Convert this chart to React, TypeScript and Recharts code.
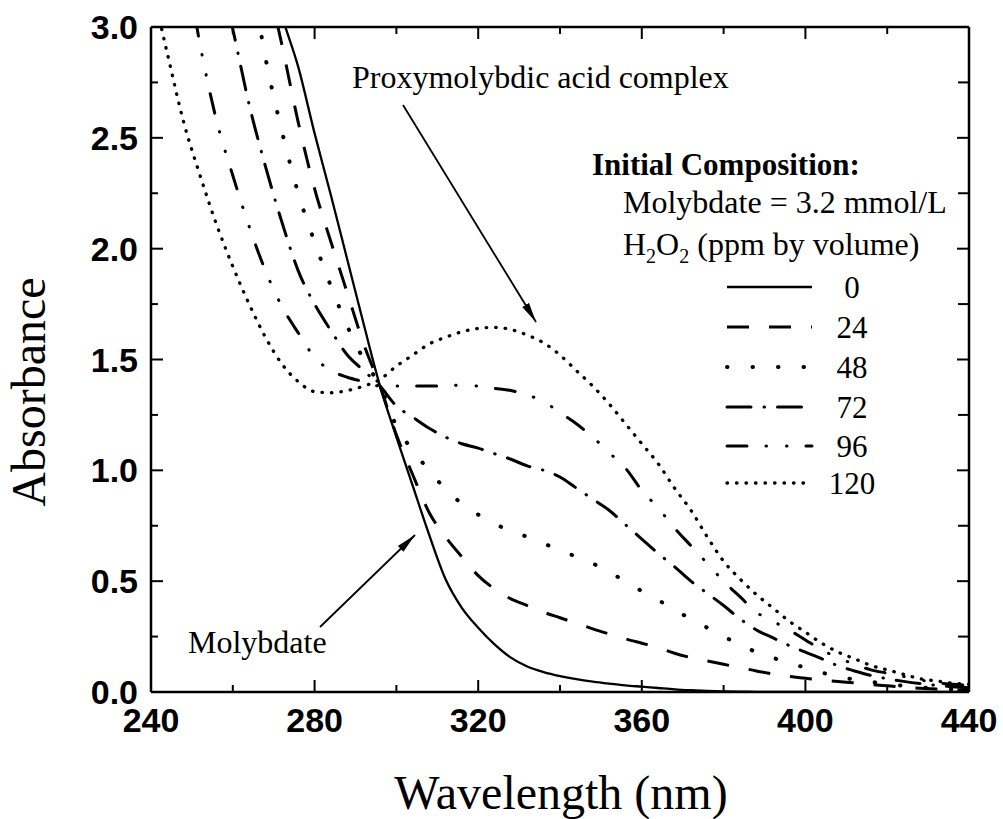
import React from 'react';
import { LineChart, Line, XAxis, YAxis } from 'recharts';

// ---- data (absorbance vs wavelength) ----
const wavelengths = [240, 244, 248, 252, 256, 260, 264, 268, 272, 276, 280, 284, 288, 292, 296, 300, 304, 308, 312, 316, 320, 324, 328, 332, 336, 340, 344, 348, 352, 356, 360, 364, 368, 372, 376, 380, 384, 388, 392, 396, 400, 404, 408, 412, 416, 420, 424, 428, 432, 436, 440];

const abs0 = [6.0, 5.6, 5.2, 4.8, 4.4, 4.0, 3.65, 3.32, 3.05, 2.82, 2.52, 2.24, 1.95, 1.66, 1.38, 1.15, 0.93, 0.71, 0.51, 0.38, 0.29, 0.215, 0.155, 0.115, 0.09, 0.072, 0.058, 0.047, 0.038, 0.03, 0.024, 0.018, 0.012, 0.008, 0.005, 0.003, 0.002, 0.001, 0, 0, 0, 0, 0, 0, 0, 0, 0, 0, 0, 0, 0];
const abs24 = [5.8, 5.4, 5.0, 4.6, 4.3, 3.95, 3.6, 3.25, 2.92, 2.57, 2.27, 2.03, 1.80, 1.57, 1.38, 1.16, 0.98, 0.81, 0.70, 0.61, 0.525, 0.465, 0.42, 0.39, 0.36, 0.335, 0.31, 0.285, 0.262, 0.24, 0.22, 0.2, 0.175, 0.155, 0.14, 0.125, 0.11, 0.095, 0.082, 0.07, 0.062, 0.054, 0.047, 0.041, 0.034, 0.028, 0.022, 0.017, 0.013, 0.01, 0.008];
const abs48 = [5.2, 4.8, 4.45, 4.15, 3.9, 3.6, 3.28, 2.86, 2.53, 2.25, 2.03, 1.83, 1.65, 1.5, 1.38, 1.2, 1.09, 1.0, 0.915, 0.85, 0.8, 0.76, 0.725, 0.7, 0.67, 0.64, 0.61, 0.58, 0.54, 0.5, 0.455, 0.415, 0.37, 0.33, 0.29, 0.25, 0.215, 0.18, 0.155, 0.13, 0.11, 0.088, 0.068, 0.057, 0.046, 0.036, 0.028, 0.021, 0.016, 0.012, 0.01];
const abs72 = [4.6, 4.25, 3.9, 3.6, 3.3, 2.99, 2.65, 2.37, 2.12, 1.9, 1.75, 1.63, 1.52, 1.45, 1.38, 1.29, 1.24, 1.19, 1.15, 1.12, 1.1, 1.075, 1.05, 1.02, 1.0, 0.97, 0.92, 0.87, 0.82, 0.755, 0.69, 0.625, 0.565, 0.5, 0.445, 0.39, 0.33, 0.28, 0.245, 0.21, 0.18, 0.15, 0.118, 0.095, 0.075, 0.06, 0.048, 0.038, 0.03, 0.024, 0.02];
const abs96 = [4.1, 3.75, 3.35, 2.92, 2.58, 2.33, 2.1, 1.9, 1.74, 1.62, 1.51, 1.45, 1.42, 1.4, 1.38, 1.38, 1.38, 1.38, 1.38, 1.385, 1.38, 1.37, 1.36, 1.34, 1.31, 1.26, 1.21, 1.15, 1.08, 1.01, 0.91, 0.83, 0.74, 0.66, 0.58, 0.5, 0.43, 0.36, 0.32, 0.28, 0.235, 0.19, 0.155, 0.125, 0.1, 0.085, 0.07, 0.055, 0.042, 0.035, 0.03];
const abs120 = [3.2, 2.88, 2.57, 2.33, 2.11, 1.92, 1.75, 1.6, 1.48, 1.4, 1.355, 1.35, 1.36, 1.38, 1.41, 1.47, 1.52, 1.57, 1.6, 1.625, 1.64, 1.645, 1.635, 1.61, 1.575, 1.52, 1.45, 1.38, 1.3, 1.21, 1.12, 1.03, 0.92, 0.82, 0.7, 0.59, 0.51, 0.44, 0.38, 0.32, 0.27, 0.22, 0.18, 0.15, 0.12, 0.1, 0.08, 0.06, 0.05, 0.04, 0.035];

const seriesNames = ['0', '24', '48', '72', '96', '120'];
const seriesValues = [abs0, abs24, abs48, abs72, abs96, abs120];

const xMajorTicks = [240, 280, 320, 360, 400, 440];
const xMinorTicks = [260, 300, 340, 380, 420];
const yMajorTicks = [0, 0.5, 1.0, 1.5, 2.0, 2.5, 3.0];
const yMinorTicks = [0.25, 0.75, 1.25, 1.75, 2.25, 2.75];
const xTickLabels = ['240', '280', '320', '360', '400', '440'];
const yTickLabels = ['0.0', '0.5', '1.0', '1.5', '2.0', '2.5', '3.0'];

const xTitle = 'Wavelength (nm)';
const yTitle = 'Absorbance';

// ---- styles ----
const W = 1003;
const H = 819;
const SERIF = '"Liberation Serif", "Times New Roman", serif';
const SANS = '"Liberation Sans", Arial, sans-serif';
const X_MARGIN = 16;
const Y_MARGIN = 14;
const MAJOR = 12;
const MINOR = 7;
const AXIS_W = 2.5;

const lineStyles = [
  { dash: undefined, width: 2.3, cap: 'butt' },
  { dash: '22 20', width: 3, cap: 'butt' },
  { dash: '0.5 25', width: 4, cap: 'round' },
  { dash: '24 13 0.5 13', width: 3, cap: 'round' },
  { dash: '20 19 0.5 20 0.5 19', width: 3, cap: 'round' },
  { dash: '0.5 9', width: 3.3, cap: 'round' },
];

const data = wavelengths.map((w, i) => {
  const row: Record<string, number> = { w };
  seriesNames.forEach((n, k) => {
    row['s' + n] = seriesValues[k][i];
  });
  return row;
});

const allX = [...xMajorTicks, ...xMinorTicks].sort((a, b) => a - b);
const allY = [...yMajorTicks, ...yMinorTicks].sort((a, b) => a - b);

const tickText = {
  fontFamily: SANS,
  fontWeight: 700,
  fontSize: 34,
  fill: '#000',
};

const BottomTick = (props: any) => {
  const { x, y, payload } = props;
  const v = payload.value;
  const idx = xMajorTicks.indexOf(v);
  const axisY = y - X_MARGIN;
  return (
    <g>
      <line x1={x} x2={x} y1={axisY} y2={axisY - (idx >= 0 ? MAJOR : MINOR)} stroke="#000" strokeWidth={2} />
      {idx >= 0 && (
        <text x={x} y={axisY + 40} textAnchor="middle" {...tickText}>
          {xTickLabels[idx]}
        </text>
      )}
    </g>
  );
};

const TopTick = (props: any) => {
  const { x, y, payload } = props;
  const v = payload.value;
  const major = xMajorTicks.indexOf(v) >= 0;
  return <line x1={x} x2={x} y1={y} y2={y + (major ? MAJOR : MINOR)} stroke="#000" strokeWidth={2} />;
};

const LeftTick = (props: any) => {
  const { x, y, payload } = props;
  const v = payload.value;
  const idx = yMajorTicks.indexOf(v);
  const axisX = x + Y_MARGIN;
  return (
    <g>
      <line x1={axisX} x2={axisX + (idx >= 0 ? MAJOR : MINOR)} y1={y} y2={y} stroke="#000" strokeWidth={2} />
      {idx >= 0 && (
        <text x={axisX - 13} y={y + 12} textAnchor="end" {...tickText}>
          {yTickLabels[idx]}
        </text>
      )}
    </g>
  );
};

const RightTick = (props: any) => {
  const { x, y, payload } = props;
  const v = payload.value;
  const major = yMajorTicks.indexOf(v) >= 0;
  return <line x1={x} x2={x - (major ? MAJOR : MINOR + 4)} y1={y} y2={y} stroke="#000" strokeWidth={2} />;
};

const legendRowsY = [287, 327, 367, 407, 446, 483];

export default function App() {
  return (
    <div style={{ position: 'absolute', left: 0, top: 0, width: W, height: H, background: '#fff' }}>
      <LineChart width={W} height={H} data={data} margin={{ top: 26, right: 33, bottom: 126, left: 150 }}>
        <XAxis
          xAxisId={0}
          dataKey="w"
          type="number"
          domain={[240, 440]}
          allowDataOverflow
          ticks={allX}
          interval={0}
          height={1}
          tickSize={0}
          tickMargin={X_MARGIN}
          tickLine={false}
          axisLine={{ stroke: '#000', strokeWidth: AXIS_W }}
          tick={<BottomTick />}
        />
        <XAxis
          xAxisId="top"
          orientation="top"
          dataKey="w"
          type="number"
          domain={[240, 440]}
          allowDataOverflow
          ticks={allX}
          interval={0}
          height={1}
          tickSize={0}
          tickMargin={0}
          tickLine={false}
          axisLine={{ stroke: '#000', strokeWidth: AXIS_W }}
          tick={<TopTick />}
        />
        <YAxis
          yAxisId={0}
          type="number"
          domain={[0, 3]}
          allowDataOverflow
          ticks={allY}
          interval={0}
          width={1}
          tickSize={0}
          tickMargin={Y_MARGIN}
          tickLine={false}
          axisLine={{ stroke: '#000', strokeWidth: AXIS_W }}
          tick={<LeftTick />}
        />
        <YAxis
          yAxisId="right"
          orientation="right"
          type="number"
          domain={[0, 3]}
          allowDataOverflow
          ticks={allY}
          interval={0}
          width={1}
          tickSize={0}
          tickMargin={0}
          tickLine={false}
          axisLine={{ stroke: '#000', strokeWidth: AXIS_W }}
          tick={<RightTick />}
        />
        {seriesNames.map((n, k) => (
          <Line
            key={n}
            xAxisId={0}
            yAxisId={0}
            dataKey={'s' + n}
            type="monotone"
            stroke="#000"
            strokeWidth={lineStyles[k].width}
            strokeDasharray={lineStyles[k].dash}
            strokeLinecap={lineStyles[k].cap as any}
            dot={false}
            activeDot={false}
            isAnimationActive={false}
          />
        ))}
      </LineChart>
      <svg
        width={W}
        height={H}
        style={{ position: 'absolute', left: 0, top: 0, pointerEvents: 'none' }}
      >
        <defs>
          <marker id="arrow" viewBox="0 0 20 10" refX="20" refY="5" markerWidth="20" markerHeight="10" markerUnits="userSpaceOnUse" orient="auto">
            <path d="M0,1 L20,5 L0,9 z" fill="#000" />
          </marker>
        </defs>
        <text x={561} y={809} textAnchor="middle" fontFamily={SERIF} fontSize={48} fill="#000">
          {xTitle}
        </text>
        <text
          x={45}
          y={392}
          transform="rotate(-90 45 392)"
          textAnchor="middle"
          fontFamily={SERIF}
          fontSize={48}
          fill="#000"
        >
          {yTitle}
        </text>
        <text x={352} y={88} fontFamily={SERIF} fontSize={32} fill="#000">
          Proxymolybdic acid complex
        </text>
        <line x1={403} y1={105} x2={536} y2={322} stroke="#000" strokeWidth={1.8} markerEnd="url(#arrow)" />
        <text x={188} y={653} fontFamily={SERIF} fontSize={32} fill="#000">
          Molybdate
        </text>
        <line x1={320} y1={627} x2={415} y2={535} stroke="#000" strokeWidth={1.8} markerEnd="url(#arrow)" />
        <text x={592} y={175} fontFamily={SERIF} fontWeight={700} fontSize={31} fill="#000">
          Initial Composition:
        </text>
        <text x={623} y={213} fontFamily={SERIF} fontSize={32} fill="#000">
          Molybdate = 3.2 mmol/L
        </text>
        <text x={623} y={255} fontFamily={SERIF} fontSize={32} fill="#000">
          H<tspan fontSize={20} dy={8}>2</tspan>
          <tspan dy={-8}>O</tspan>
          <tspan fontSize={20} dy={8}>2</tspan>
          <tspan dy={-8}> (ppm by volume)</tspan>
        </text>
        {seriesNames.map((n, k) => (
          <g key={n}>
            <line
              x1={727}
              x2={812}
              y1={legendRowsY[k]}
              y2={legendRowsY[k]}
              stroke="#000"
              strokeWidth={lineStyles[k].width}
              strokeDasharray={lineStyles[k].dash}
              strokeLinecap={lineStyles[k].cap as any}
            />
            <text x={852} y={legendRowsY[k] + 11} textAnchor="middle" fontFamily={SERIF} fontSize={31} fill="#000">
              {n}
            </text>
          </g>
        ))}
      </svg>
    </div>
  );
}
